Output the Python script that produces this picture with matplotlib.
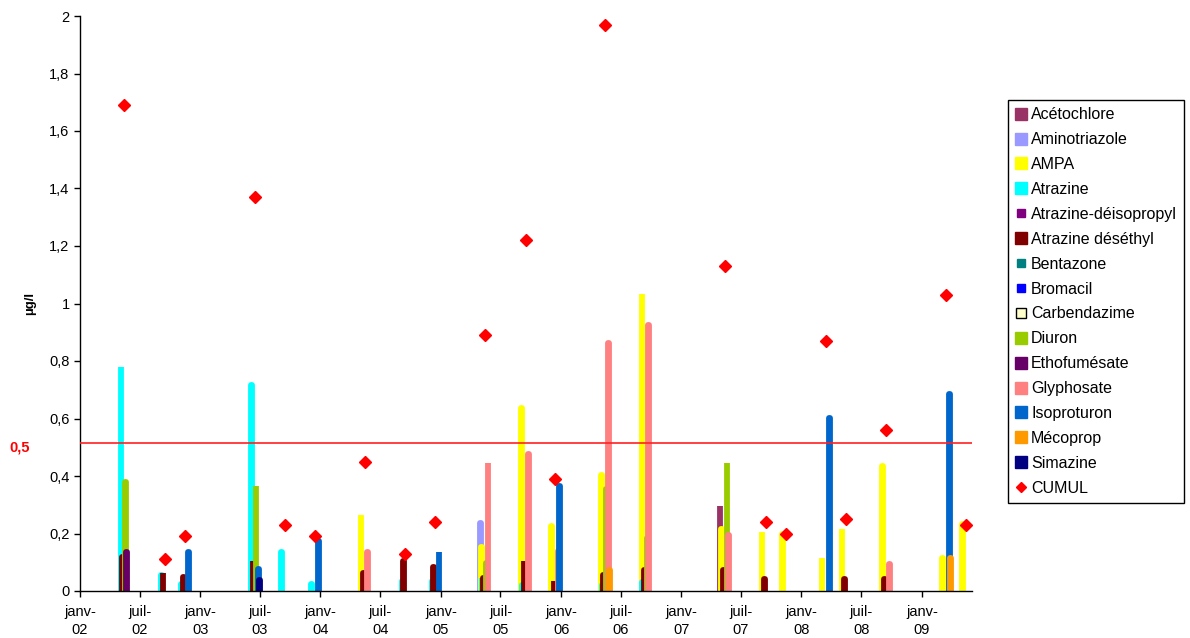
import numpy as np
import matplotlib
matplotlib.use("Agg")
import matplotlib.pyplot as plt
import matplotlib.dates as mdates
from matplotlib.lines import Line2D
from matplotlib.ticker import FuncFormatter
from datetime import date

plt.rcParams['font.family'] = ['Liberation Sans', 'DejaVu Sans']

# sampling dates
dates = ["2002-05-15", "2002-09-15", "2002-11-15", "2003-06-15", "2003-09-15",
         "2003-12-15", "2004-05-15", "2004-09-15", "2004-12-15", "2005-05-15",
         "2005-09-15", "2005-12-15", "2006-05-15", "2006-09-15", "2007-05-15",
         "2007-09-15", "2007-11-15", "2008-03-15", "2008-05-15", "2008-09-15",
         "2009-03-15", "2009-05-15"]

series_names = ["Acétochlore", "Aminotriazole", "AMPA", "Atrazine",
                "Atrazine-déisopropyl", "Atrazine déséthyl", "Bentazone",
                "Bromacil", "Carbendazime", "Diuron", "Ethofumésate",
                "Glyphosate", "Isoproturon", "Mécoprop", "Simazine"]
series_colors = ["#993366", "#9999FF", "#FFFF00", "#00FFFF", "#800080",
                 "#800000", "#008080", "#0000FF", "#FFFFCC", "#99CC00",
                 "#660066", "#FF8080", "#0066CC", "#FF9900", "#000080"]

#                A      B      C      D      E      F      G      H      I      J      K      L      M      N      O      P      Q      R      S      T      U      V
acetochlore  = [0,     0,     0,     0,     0,     0,     0,     0,     0,     0,     0,     0,     0,     0,     0.296, 0,     0,     0,     0,     0,     0,     0]
aminotriaz   = [0,     0,     0,     0,     0,     0,     0,     0,     0,     0.235, 0,     0,     0,     0,     0,     0,     0,     0,     0,     0,     0,     0]
ampa         = [0,     0,     0,     0,     0,     0,     0.264, 0,     0,     0.154, 0.635, 0.226, 0.405, 1.033, 0.215, 0.205, 0.200, 0.114, 0.215, 0.435, 0.114, 0.233]
atrazine     = [0.780, 0.055, 0.025, 0.715, 0.135, 0.025, 0,     0.036, 0.036, 0.045, 0.020, 0,     0.020, 0.032, 0,     0,     0,     0,     0,     0,     0,     0]
atr_deisop   = [0] * 22
atr_deseth   = [0.120, 0.064, 0.047, 0.105, 0,     0,     0.064, 0.105, 0.085, 0.045, 0.105, 0.036, 0.055, 0.073, 0.073, 0.043, 0,     0,     0.043, 0.043, 0,     0]
bentazone    = [0] * 22
bromacil     = [0] * 22
carbendazime = [0] * 22
diuron       = [0.380, 0,     0,     0.365, 0,     0,     0,     0,     0,     0.097, 0,     0,     0.354, 0.185, 0.444, 0,     0,     0,     0,     0,     0,     0]
ethofumesate = [0.135, 0,     0,     0,     0,     0,     0,     0,     0,     0,     0,     0,     0,     0,     0,     0,     0,     0,     0,     0,     0,     0]
glyphosate   = [0,     0,     0,     0,     0,     0,     0.137, 0,     0,     0.444, 0.475, 0.140, 0.864, 0.925, 0.194, 0,     0,     0,     0,     0.094, 0,     0]
isoproturon  = [0,     0,     0.135, 0.075, 0,     0.175, 0,     0,     0.135, 0,     0,     0.365, 0,     0,     0,     0,     0,     0.603, 0,     0,     0.684, 0]
mecoprop     = [0,     0,     0,     0,     0,     0,     0,     0,     0,     0,     0,     0,     0.073, 0,     0,     0,     0,     0,     0,     0,     0.114, 0]
simazine     = [0,     0,     0,     0.038, 0,     0,     0,     0,     0,     0,     0,     0,     0,     0,     0,     0,     0,     0,     0,     0,     0,     0]
cumul        = [1.69,  0.11,  0.19,  1.37,  0.23,  0.19,  0.45,  0.13,  0.24,  0.89,  1.22,  0.39,  1.97,  2.30,  1.13,  0.24,  0.20,  0.87,  0.25,  0.56,  1.03,  0.23]

series_values = [acetochlore, aminotriaz, ampa, atrazine, atr_deisop, atr_deseth,
                 bentazone, bromacil, carbendazime, diuron, ethofumesate,
                 glyphosate, isoproturon, mecoprop, simazine]

threshold = 0.515
tick_dates = ["2002-01-01", "2002-07-01", "2003-01-01", "2003-07-01", "2004-01-01",
              "2004-07-01", "2005-01-01", "2005-07-01", "2006-01-01", "2006-07-01",
              "2007-01-01", "2007-07-01", "2008-01-01", "2008-07-01", "2009-01-01"]
tick_labels = ["janv-\n02", "juil-\n02", "janv-\n03", "juil-\n03", "janv-\n04",
               "juil-\n04", "janv-\n05", "juil-\n05", "janv-\n06", "juil-\n06",
               "janv-\n07", "juil-\n07", "janv-\n08", "juil-\n08", "janv-\n09"]

x = mdates.date2num([date.fromisoformat(d) for d in dates])
xt = mdates.date2num([date.fromisoformat(d) for d in tick_dates])

fig = plt.figure(figsize=(11.9, 6.38), dpi=100)
ax = fig.add_axes([80 / 1190, 1 - 591 / 638, 892 / 1190, 575 / 638])

step = 2.3  # days between series inside a cluster
for i, (vals, col) in enumerate(zip(series_values, series_colors)):
    vals = np.array(vals, dtype=float)
    m = vals > 0
    if not m.any():
        continue
    bars = ax.bar(x[m] + (i - 7) * step, vals[m], width=step, color=col,
                  edgecolor=col, linewidth=4.2, zorder=2)
    for p in bars:
        p.set_joinstyle('round')

ax.axhline(threshold, color='#FF2020', lw=1.2, zorder=3)
ax.plot(x, cumul, ls='none', marker='D', ms=6, color='#FF0000',
        markeredgecolor='#FF0000', zorder=4, clip_on=True)

ax.set_ylim(0, 2)
ax.set_xlim(mdates.date2num(date(2002, 1, 1)), mdates.date2num(date(2009, 6, 2)))
ax.set_yticks(np.arange(0, 2.01, 0.2))
ax.yaxis.set_major_formatter(FuncFormatter(lambda v, p: f"{v:.1f}".rstrip('0').rstrip('.').replace('.', ',')))
ax.set_xticks(xt)
ax.set_xticklabels(tick_labels)
ax.tick_params(axis='both', direction='out', length=4, width=1, colors='black')
ax.tick_params(axis='y', labelsize=10.5)
ax.tick_params(axis='x', labelsize=10.5, pad=6)
for lbl in ax.get_xticklabels():
    lbl.set_linespacing(1.35)
for s in ['top', 'right']:
    ax.spines[s].set_visible(False)
for s in ['left', 'bottom']:
    ax.spines[s].set_linewidth(1)
    ax.spines[s].set_color('black')

ax.set_ylabel("µg/l", fontsize=9.5, fontweight='bold')
ax.yaxis.set_label_coords(-0.049, 0.5)
ax.text(-0.068, 0.5, "0,5", transform=ax.get_yaxis_transform(), color='#FF0000',
        fontsize=10.5, fontweight='bold', ha='center', va='center')

handles = []
for name, col in zip(series_names, series_colors):
    if name in ("Atrazine-déisopropyl", "Bentazone", "Bromacil"):
        h = Line2D([], [], ls='none', marker='s', ms=6, color=col, label=name)
    elif name == "Carbendazime":
        h = Line2D([], [], ls='none', marker='s', ms=7, markerfacecolor=col,
                   markeredgecolor='black', markeredgewidth=1, label=name)
    else:
        h = Line2D([], [], ls='none', marker='s', ms=9, color=col, label=name)
    handles.append(h)
handles.append(Line2D([], [], ls='none', marker='D', ms=5, color='#FF0000', label="CUMUL"))

leg = fig.legend(handles=handles, loc='upper left', bbox_to_anchor=(1008 / 1190, 1 - 100 / 638),
                 borderaxespad=0, fontsize=11.5, frameon=True, fancybox=False,
                 handlelength=0.7, handletextpad=0.3, labelspacing=0.62,
                 borderpad=0.45, framealpha=1)
leg.get_frame().set_edgecolor('black')
leg.get_frame().set_linewidth(1)

fig.savefig("out.png", dpi=100)
